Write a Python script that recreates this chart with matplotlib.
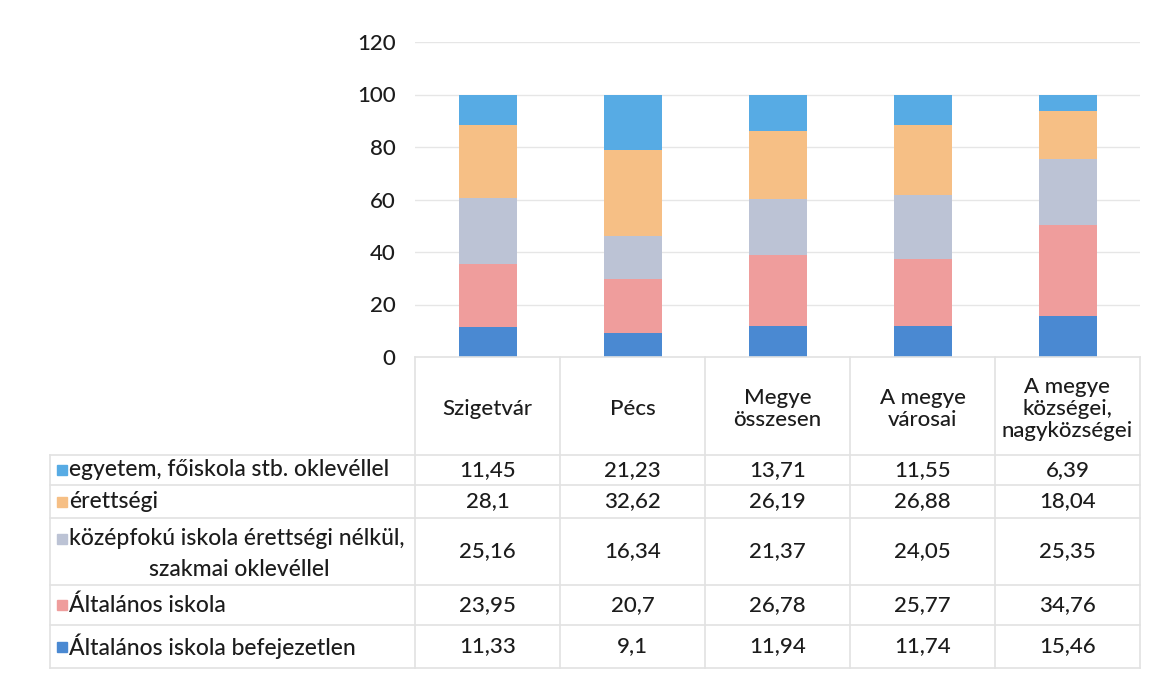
import matplotlib
matplotlib.use("Agg")
import matplotlib.pyplot as plt
import numpy as np

plt.rcParams["font.family"] = ["Lato", "DejaVu Sans"]
plt.rcParams["font.weight"] = "medium"

# =====================================================
# DATA
# =====================================================
categories = ["Szigetvár", "Pécs", "Megye\nösszesen", "A megye\nvárosai",
              "A megye\nközségei,\nnagyközségei"]

# bottom to top stacking order
series_names = ["Általános iskola befejezetlen", "Általános iskola",
                "középfokú iskola érettségi nélkül,\nszakmai oklevéllel",
                "érettségi", "egyetem, főiskola stb. oklevéllel"]
befejezetlen = [11.33, 9.1, 11.94, 11.74, 15.46]
altalanos = [23.95, 20.7, 26.78, 25.77, 34.76]
kozepfoku = [25.16, 16.34, 21.37, 24.05, 25.35]
erettsegi = [28.1, 32.62, 26.19, 26.88, 18.04]
egyetem = [11.45, 21.23, 13.71, 11.55, 6.39]

series_values = [befejezetlen, altalanos, kozepfoku, erettsegi, egyetem]
colors = ["#4a89d2", "#ef9d9c", "#bcc3d5", "#f6bf85", "#57abe4"]

W, H = 1150, 675
txt_col = "#1c1c1c"


def fx(px):
    return px / W


def fy(py):
    return 1 - py / H


fig = plt.figure(figsize=(11.5, 6.75), dpi=100)

# plot area
x0, x1 = 415, 1140
y_top, y_zero = 42, 357
ax = fig.add_axes([fx(x0), fy(y_zero), fx(x1) - fx(x0), fy(y_top) - fy(y_zero)])

x = np.arange(len(categories))
bottom = np.zeros(len(categories))
for vals, col in zip(series_values, colors):
    ax.bar(x, vals, width=0.4, bottom=bottom, color=col, edgecolor="none")
    bottom += np.array(vals)

ax.set_xlim(-0.5, len(categories) - 0.5)
ax.set_ylim(0, 120)
ax.set_yticks(range(0, 121, 20))
ax.set_xticks([])
ax.tick_params(axis="y", length=0, labelsize=16, pad=14, colors=txt_col)
ax.yaxis.grid(True, color="#e6e6e6", linewidth=1)
ax.set_axisbelow(True)
for s in ax.spines.values():
    s.set_visible(False)

# =====================================================
# DATA TABLE
# =====================================================
line_col = "#e2e2e2"
col_w = (x1 - x0) / len(categories)
col_edges = [x0 + i * col_w for i in range(len(categories) + 1)]
row_edges = [455, 485, 518, 585, 625, 668]
tab_left = 50

# baseline under the bars
fig.add_artist(plt.Line2D([fx(x0), fx(x1)], [fy(y_zero), fy(y_zero)],
                          color=line_col, linewidth=1.2))
# vertical lines
for ce in col_edges:
    fig.add_artist(plt.Line2D([fx(ce), fx(ce)], [fy(y_zero), fy(row_edges[-1])],
                              color=line_col, linewidth=1.2))
fig.add_artist(plt.Line2D([fx(tab_left), fx(tab_left)],
                          [fy(row_edges[0]), fy(row_edges[-1])],
                          color=line_col, linewidth=1.2))
# horizontal lines
for re in row_edges:
    fig.add_artist(plt.Line2D([fx(tab_left), fx(x1)], [fy(re), fy(re)],
                              color=line_col, linewidth=1.2))

# header
for i, cat in enumerate(categories):
    cx = (col_edges[i] + col_edges[i + 1]) / 2
    fig.text(fx(cx), fy((y_zero + row_edges[0]) / 2 + 3), cat, ha="center",
             va="center", fontsize=16, color=txt_col, linespacing=1.15)

# rows, top row is the last series
for r, si in enumerate(range(len(series_names) - 1, -1, -1)):
    ry = (row_edges[r] + row_edges[r + 1]) / 2
    name = series_names[si]
    if "\n" in name:
        first, second = name.split("\n")
        fig.add_artist(plt.Rectangle((fx(57), fy(ry - 13 + 5)), fx(10), 10 / H,
                                     color=colors[si]))
        fig.text(fx(69), fy(ry - 13), first, ha="left", va="center",
                 fontsize=16.5, color=txt_col)
        fig.text(fx(239), fy(ry + 18), second, ha="center", va="center",
                 fontsize=16.5, color=txt_col)
    else:
        fig.add_artist(plt.Rectangle((fx(57), fy(ry + 5)), fx(10), 10 / H,
                                     color=colors[si]))
        fig.text(fx(69), fy(ry), name, ha="left", va="center",
                 fontsize=16.5, color=txt_col)
    for i, v in enumerate(series_values[si]):
        cx = (col_edges[i] + col_edges[i + 1]) / 2
        fig.text(fx(cx), fy(ry), f"{v:g}".replace(".", ","), ha="center",
                 va="center", fontsize=16, color=txt_col)

fig.savefig("out.png", dpi=100)
